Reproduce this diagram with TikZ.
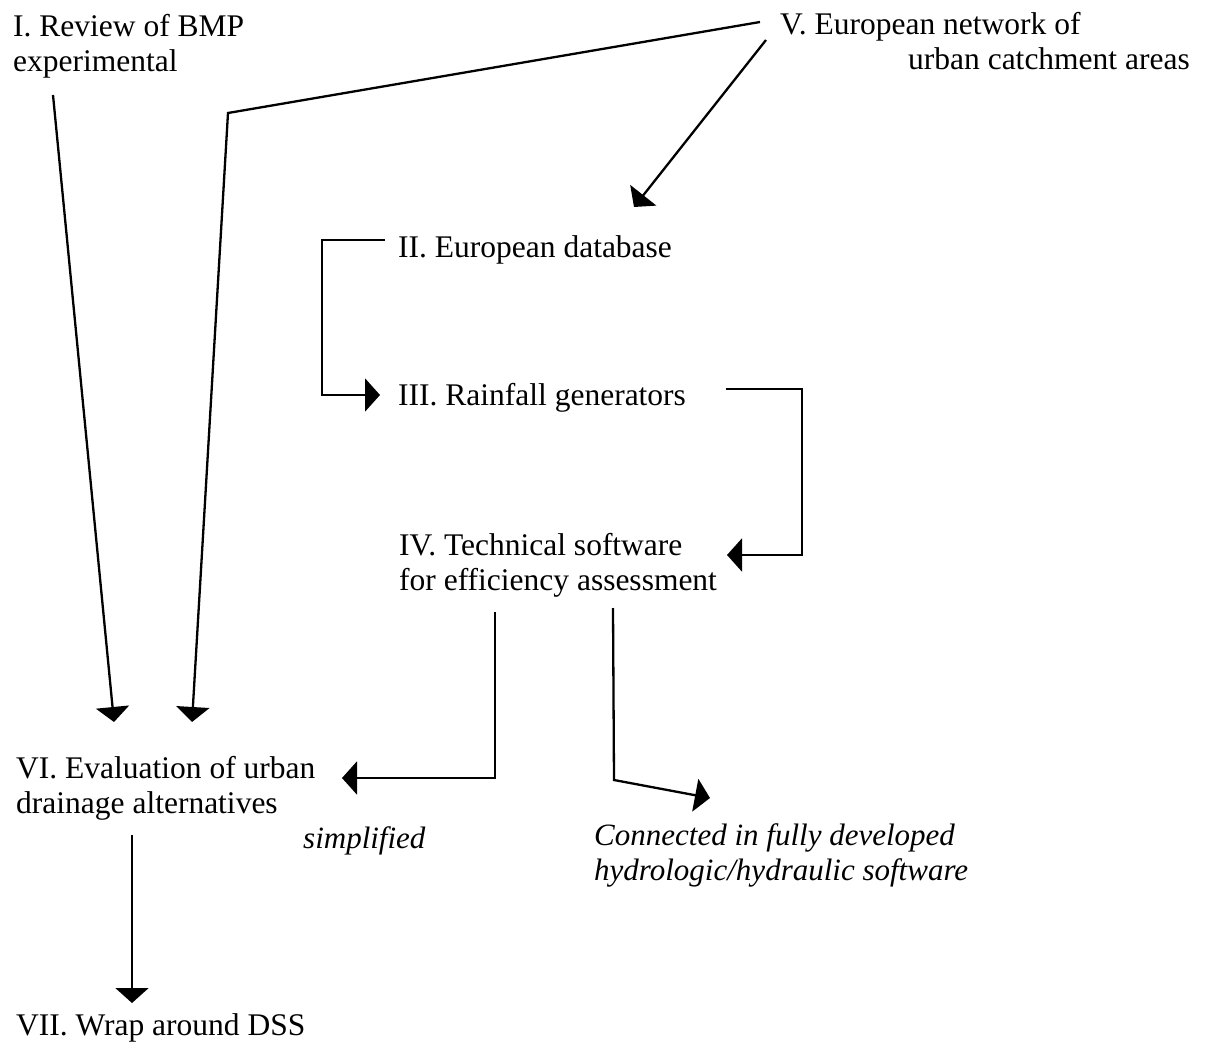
\documentclass[tikz,border=0pt]{standalone}
\usepackage{fontspec}
\setmainfont{Liberation Serif}
\usetikzlibrary{arrows.meta}
\tikzset{
  lab/.style={anchor=base west, inner sep=0pt, align=left, font=\fontsize{31.5}{35}\selectfont},
  ilab/.style={lab, font=\fontsize{31}{35}\selectfont\itshape},
  conn/.style={line width=2.3pt, -{Triangle[length=15pt,width=33pt]}},
}
\begin{document}
\begin{tikzpicture}[x=1pt,y=-1pt]
\useasboundingbox (0,0) rectangle (1211,1046);
% texts (base anchor = baseline of the last line)
\node[lab] (n1) at (13,72) {I. Review of BMP\\experimental};
\node[lab] (n5) at (780,70) {V. European network of\\\hspace*{128pt}urban catchment areas};
\node[lab] (n2) at (398,258) {II. European database};
\node[lab] (n3) at (398,405) {III. Rainfall generators};
\node[lab] (n4) at (399,590) {IV. Technical software\\for efficiency assessment};
\node[lab] (n6) at (16,813) {VI. Evaluation of urban\\drainage alternatives};
\node[lab] (n7) at (16,1035) {VII. Wrap around DSS};
\node[ilab] (ls) at (303,848) {simplified};
\node[ilab] (lc) at (594,880) {Connected in fully developed\\hydrologic/hydraulic software};
% connector points
\coordinate (a1s) at (53,95);   \coordinate (a1e) at (114,722);
\coordinate (a2s) at (760,22);  \coordinate (a2m) at (228,113); \coordinate (a2e) at (192,722);
\coordinate (a3s) at (766,40);  \coordinate (a3e) at (634,207);
\coordinate (a4s) at (385,240); \coordinate (a4m) at (322,240); \coordinate (a4n) at (322,395); \coordinate (a4e) at (380,395);
\coordinate (a5s) at (726,389); \coordinate (a5m) at (802,389); \coordinate (a5n) at (802,555); \coordinate (a5e) at (727,555);
\coordinate (a6s) at (495,612); \coordinate (a6m) at (495,778); \coordinate (a6e) at (342,778);
\coordinate (a7s) at (613,608); \coordinate (a7m) at (614,780); \coordinate (a7e) at (710,798);
\coordinate (a8s) at (132,835); \coordinate (a8e) at (132,1003);
% connectors
\draw[conn] (a1s) -- (a1e);
\draw[conn] (a2s) -- (a2m) -- (a2e);
\draw[conn] (a3s) -- (a3e);
\draw[conn] (a4s) -- (a4m) -- (a4n) -- (a4e);
\draw[conn] (a5s) -- (a5m) -- (a5n) -- (a5e);
\draw[conn] (a6s) -- (a6m) -- (a6e);
\draw[conn] (a7s) -- (a7m) -- (a7e);
\draw[conn] (a8s) -- (a8e);
\end{tikzpicture}
\end{document}
